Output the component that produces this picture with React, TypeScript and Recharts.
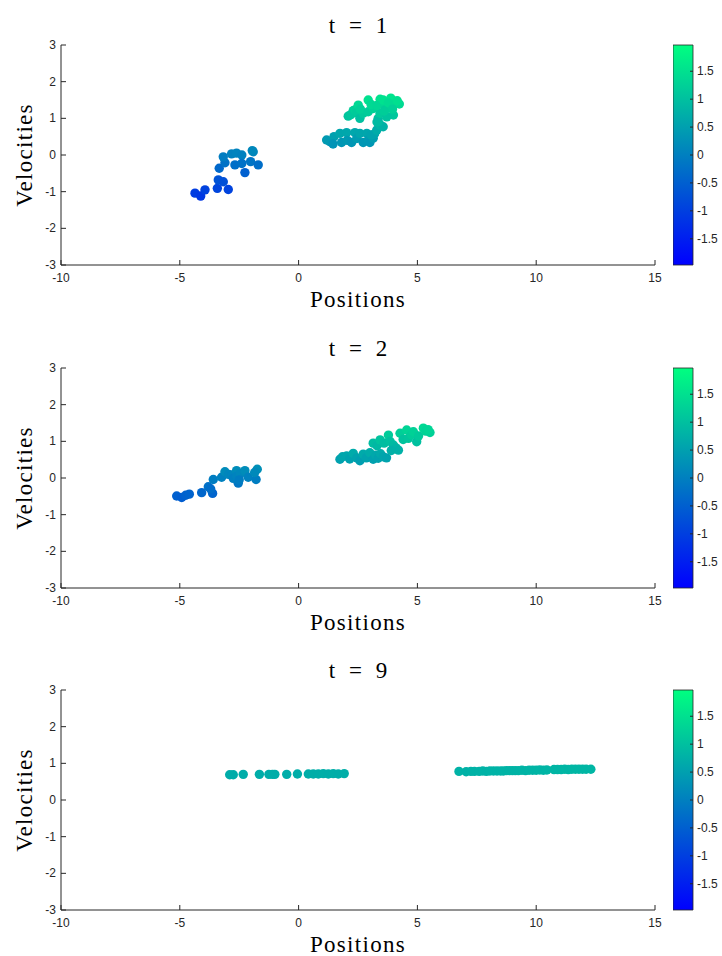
import React from 'react';
import { ScatterChart, Scatter, XAxis, YAxis, ComposedChart, ReferenceArea } from 'recharts';

// ---------- data ----------
const pos1 = [
  -4.36, -4.12, -3.94, -3.42, -2.96, -3.38, -3.17, -2.26, -3.34, -3.10, -3.17, -2.82, -2.61, -2.39, -2.68, -2.39, -2.02, -1.91, -1.70, -1.95,
  1.32, 1.18, 1.49, 1.45, 1.74, 1.81, 2.02, 2.05, 2.23, 2.37, 2.45, 2.58, 2.72, 2.87, 2.95, 3.0, 3.14, 3.2, 3.05, 3.29, 3.43, 3.56, 3.35, 3.3, 3.35,
  2.09, 2.30, 2.2, 2.37, 2.51, 2.45, 2.58, 2.72, 2.6, 2.93, 2.93, 3.14, 3.05, 3.43, 3.43, 3.30, 3.64, 3.64, 3.56, 3.88, 3.78, 4.06, 4.24, 3.99, 3.71, 3.95, 4.15, 3.6,
];
const vel1 = [
  -1.04, -1.12, -0.95, -0.91, -0.94, -0.68, -0.73, -0.48, -0.36, -0.21, -0.05, 0.03, 0.05, 0.0, -0.27, -0.23, -0.18, 0.09, -0.27, 0.12,
  0.36, 0.41, 0.50, 0.30, 0.59, 0.34, 0.61, 0.40, 0.34, 0.61, 0.45, 0.59, 0.34, 0.59, 0.42, 0.34, 0.46, 0.58, 0.55, 0.68, 0.82, 0.77, 1.0, 0.9, 0.91,
  1.06, 1.21, 1.1, 1.23, 1.36, 1.15, 1.0, 1.14, 1.25, 1.50, 1.18, 1.27, 1.38, 1.52, 1.14, 1.35, 1.36, 1.23, 1.50, 1.55, 1.42, 1.39, 1.39, 1.09, 1.04, 1.25, 1.48, 1.2,
];

const pos2 = [
  -5.13, -4.92, -4.75, -4.60, -4.08, -3.80, -3.62, -3.70, -3.59, -3.24, -3.10, -2.95, -2.82, -2.61, -2.54, -2.75, -2.60, -2.45, -2.26, -2.12, -1.79, -1.74, -1.85, -2.5,
  1.74, 1.85, 2.02, 2.15, 2.30, 2.45, 2.58, 2.72, 2.85, 3.0, 3.14, 3.25, 3.35, 3.45, 3.56, 3.7, 3.14, 3.3, 3.43, 3.6, 3.78, 3.85, 3.99, 4.1, 4.20, 4.27, 4.4, 4.55, 4.62, 4.75, 4.83, 4.97, 5.05, 5.25, 5.35, 5.53, 5.45, 3.9,
];
const vel2 = [
  -0.49, -0.53, -0.47, -0.44, -0.40, -0.24, -0.42, -0.30, -0.04, 0.02, 0.17, 0.10, 0.08, 0.20, -0.14, -0.01, 0.05, 0.12, 0.20, 0.02, -0.04, 0.24, 0.15, -0.05,
  0.51, 0.58, 0.60, 0.52, 0.67, 0.55, 0.47, 0.65, 0.55, 0.69, 0.51, 0.62, 0.54, 0.66, 0.58, 0.55, 0.95, 0.88, 1.04, 0.95, 1.17, 1.0, 0.90, 0.82, 0.76, 1.22, 1.05, 1.31, 1.08, 1.18, 1.26, 0.99, 1.15, 1.36, 1.28, 1.24, 1.32, 0.75,
];

const pos3 = [
  -2.9, -2.75, -2.33, -1.65, -1.25, -1.10, -1.00, -0.50, -0.05, 0.41, 0.62, 0.83, 1.04, 1.25, 1.46, 1.67, 1.92,
  6.75, 7.05, 7.25, 7.4, 7.6, 7.75, 7.9, 8.05, 8.2, 8.35, 8.5, 8.62, 8.75, 8.88, 9.0, 9.12, 9.25, 9.4, 9.55, 9.7, 9.85, 10.0, 10.15, 10.3, 10.45,
  10.75, 10.9, 11.05, 11.2, 11.35, 11.5, 11.65, 11.8, 11.95, 12.1, 12.3,
];
const vel3 = [
  0.69, 0.69, 0.70, 0.70, 0.70, 0.70, 0.70, 0.70, 0.71, 0.71, 0.71, 0.71, 0.72, 0.71, 0.72, 0.71, 0.72,
  0.78, 0.77, 0.78, 0.78, 0.78, 0.79, 0.78, 0.79, 0.79, 0.79, 0.79, 0.79, 0.80, 0.80, 0.80, 0.80, 0.80, 0.81, 0.80, 0.81, 0.81, 0.81, 0.82, 0.81, 0.82,
  0.83, 0.83, 0.83, 0.84, 0.83, 0.84, 0.84, 0.84, 0.84, 0.84, 0.84,
];

const titles = ['t = 1', 't = 2', 't = 9'];
const xTicks = [-10, -5, 0, 5, 10, 15];
const yTicks = [-3, -2, -1, 0, 1, 2, 3];
const cbTicks = [-1.5, -1, -0.5, 0, 0.5, 1, 1.5];
const xDomain = [-10, 15];
const yDomain = [-3, 3];
const cLim = [-1.97, 1.97];
const xLabel = 'Positions';
const yLabel = 'Velocities';

// ---------- styles ----------
const AX = '#262626';
const SANS = '"Liberation Sans", Arial, Helvetica, sans-serif';
const SERIF = '"Liberation Serif", "Times New Roman", serif';
const H = 311;

function winter(v: number) {
  const t = Math.max(0, Math.min(1, (v - cLim[0]) / (cLim[1] - cLim[0])));
  return `rgb(0,${Math.round(255 * t)},${Math.round(255 * (1 - 0.5 * t))})`;
}

const XTick = (p: any) => (
  <g>
    <line x1={p.x} x2={p.x} y1={p.y} y2={p.y - 5} stroke={AX} strokeWidth={1} />
    <text x={p.x} y={p.y + 17} textAnchor="middle" fontSize={12} fontFamily={SANS} fill={AX}>
      {String(p.payload.value)}
    </text>
  </g>
);

const YTick = (p: any) => (
  <g>
    <line x1={p.x} x2={p.x + 5} y1={p.y} y2={p.y} stroke={AX} strokeWidth={1} />
    <text x={p.x - 5} y={p.y + 4} textAnchor="end" fontSize={12} fontFamily={SANS} fill={AX}>
      {String(p.payload.value)}
    </text>
  </g>
);

const CbTick = (p: any) => (
  <g>
    <line x1={p.x} x2={p.x - 3} y1={p.y} y2={p.y} stroke={AX} strokeWidth={1} />
    <text x={p.x + 4} y={p.y + 4} textAnchor="start" fontSize={12} fontFamily={SANS} fill={AX}>
      {String(p.payload.value)}
    </text>
  </g>
);

const Dot = (p: any) => <circle cx={p.cx} cy={p.cy} r={4.7} fill={winter(p.payload.v)} />;

function Panel({ top, pos, vel, title }: { top: number; pos: number[]; vel: number[]; title: string }) {
  const data = pos.map((x, i) => ({ x, v: vel[i] }));
  return (
    <div style={{ position: 'absolute', left: 0, top, width: 722, height: H }}>
      <div style={{ position: 'absolute', left: 0, top: 0 }}>
        <ScatterChart width={722} height={H} margin={{ top: 45, right: 67, bottom: H - 265 - 30, left: 31 }}>
          <XAxis
            type="number"
            dataKey="x"
            domain={xDomain}
            ticks={xTicks}
            interval={0}
            height={30}
            tickSize={0}
            tickMargin={0}
            tickLine={false}
            axisLine={{ stroke: AX, strokeWidth: 1 }}
            tick={XTick}
            allowDataOverflow
          />
          <YAxis
            type="number"
            dataKey="v"
            domain={yDomain}
            ticks={yTicks}
            interval={0}
            width={30}
            tickSize={0}
            tickMargin={0}
            tickLine={false}
            axisLine={{ stroke: AX, strokeWidth: 1 }}
            tick={YTick}
            allowDataOverflow
          />
          <Scatter data={data} isAnimationActive={false} shape={Dot} />
        </ScatterChart>
      </div>
      <div style={{ position: 'absolute', left: 673, top: 0 }}>
        <ComposedChart width={49} height={H} margin={{ top: 45, right: 0, bottom: H - 265, left: 0 }}>
          <XAxis type="number" dataKey="x" domain={[0, 1]} hide />
          <YAxis
            yAxisId={0}
            orientation="right"
            type="number"
            domain={cLim}
            ticks={cbTicks}
            interval={0}
            width={29}
            tickSize={0}
            tickMargin={0}
            tickLine={false}
            axisLine={false}
            tick={CbTick}
            allowDataOverflow
          />
          <ReferenceArea
            x1={0}
            x2={1}
            y1={cLim[0]}
            y2={cLim[1]}
            fill="url(#winterGrad)"
            fillOpacity={1}
            stroke={AX}
            strokeWidth={0.8}
            ifOverflow="extendDomain"
          />
        </ComposedChart>
      </div>
      <svg width={722} height={H} style={{ position: 'absolute', left: 0, top: 0, pointerEvents: 'none' }}>
        <text x={358} y={33} textAnchor="middle" fontSize={23} fontFamily={SERIF} fill="#000" style={{ wordSpacing: '8px' }}>
          {title}
        </text>
        <text x={358} y={307} textAnchor="middle" fontSize={23} fontFamily={SERIF} fill="#000" letterSpacing={1.3}>
          {xLabel}
        </text>
        <text
          x={32}
          y={155}
          textAnchor="middle"
          fontSize={23}
          fontFamily={SERIF}
          fill="#000"
          letterSpacing={1.3}
          transform="rotate(-90 32 155)"
        >
          {yLabel}
        </text>
      </svg>
    </div>
  );
}

export default function App() {
  return (
    <div style={{ position: 'absolute', left: 0, top: 0, width: 722, height: 956, background: '#fff', overflow: 'hidden' }}>
      <svg width={0} height={0} style={{ position: 'absolute' }}>
        <defs>
          <linearGradient id="winterGrad" x1="0" y1="1" x2="0" y2="0">
            <stop offset="0" stopColor="rgb(0,0,255)" />
            <stop offset="1" stopColor="rgb(0,255,128)" />
          </linearGradient>
        </defs>
      </svg>
      <Panel top={0} pos={pos1} vel={vel1} title={titles[0]} />
      <Panel top={323} pos={pos2} vel={vel2} title={titles[1]} />
      <Panel top={645} pos={pos3} vel={vel3} title={titles[2]} />
    </div>
  );
}
